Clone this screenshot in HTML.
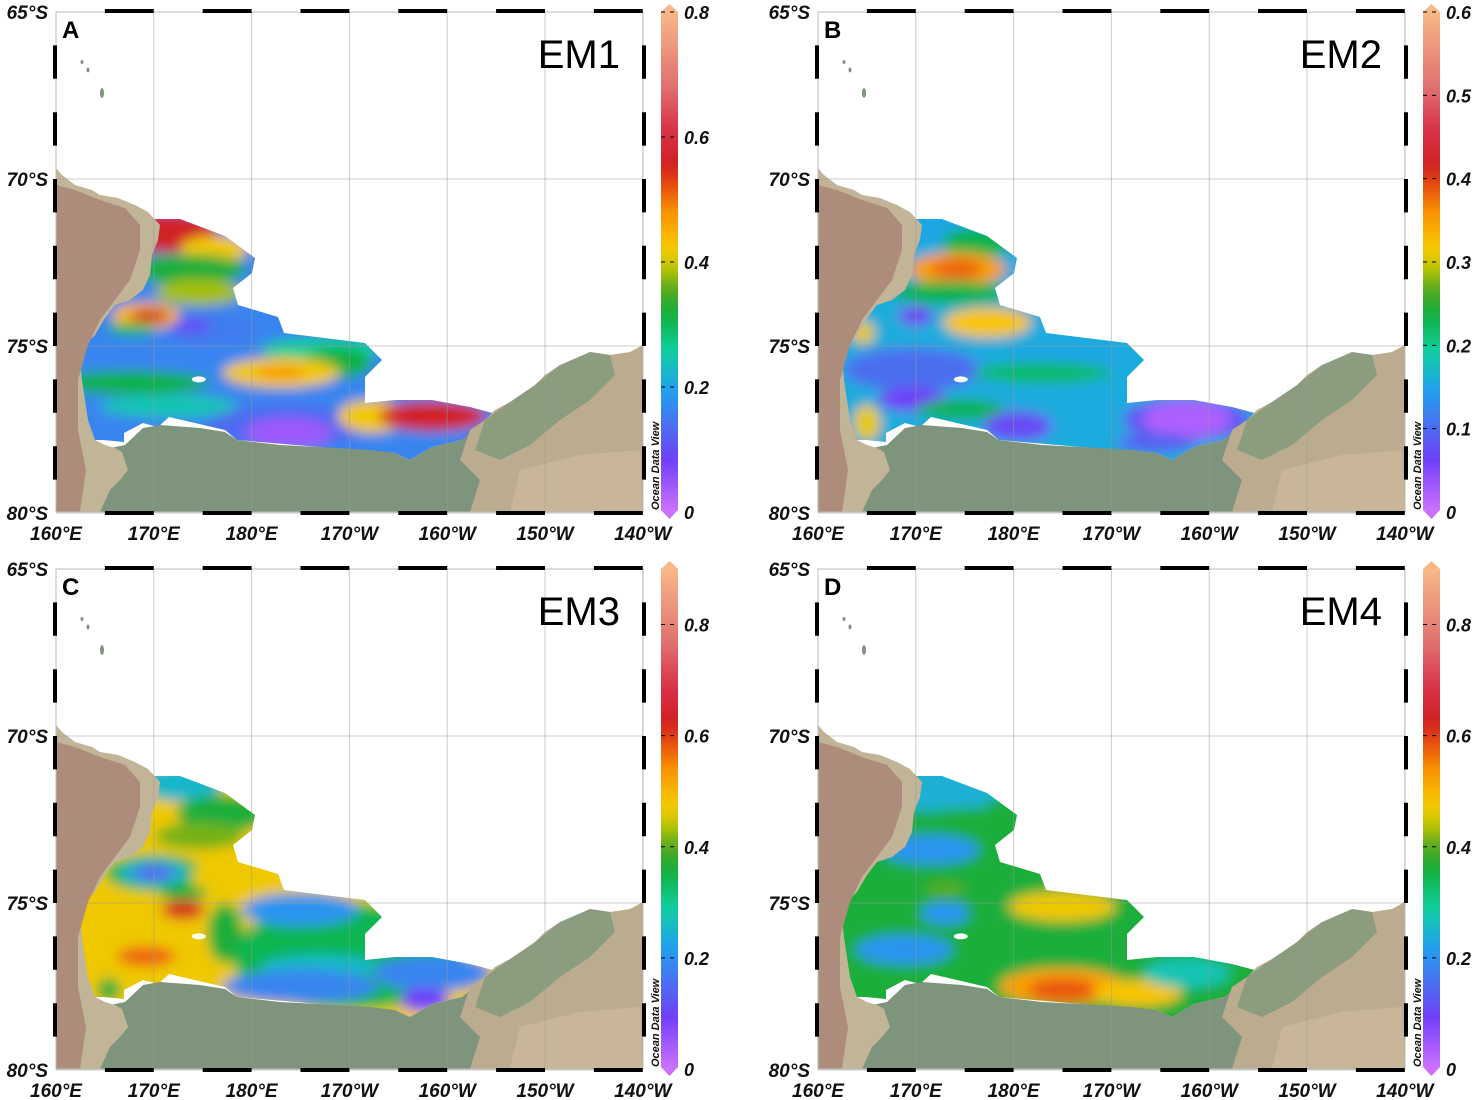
<!DOCTYPE html>
<html><head><meta charset="utf-8">
<style>
html,body{margin:0;padding:0;background:#fff;}
svg{display:block;}
text{font-family:"Liberation Sans",sans-serif;}
.ax{font-weight:bold;font-style:italic;font-size:19px;fill:#111;}
.cb{font-weight:bold;font-style:italic;font-size:18px;fill:#111;}
</style></head>
<body>
<svg id="fig" width="1476" height="1100" viewBox="0 0 1476 1100" xmlns="http://www.w3.org/2000/svg">
<defs>
<filter id="blur" x="-50%" y="-50%" width="200%" height="200%"><feGaussianBlur stdDeviation="6"/></filter>
<clipPath id="dataClip"><path d="M140,219 L180,219 L225,236 L255,258 L252,273 L233,288 L238,305 L278,317 L284,333 L365,343 L382,360 L365,377 L365,403 L395,400 L432,400 L470,407 L500,415 L462,440 L432,447 L410,460 L395,453 L319,447 L237,440 L225,430 L169,417 L158,427 L143,423 L124,433 L124,442 L103,440 L72,440 L66,350 L80,300 L120,260 L135,225 Z"/></clipPath>
</defs>
</svg>
<script>
// ---- data ----
var panelLetters = ["A","B","C","D"];
var panelTitles = ["EM1","EM2","EM3","EM4"];
var panelMax = [0.8, 0.6, 0.9, 0.9];
var tickA = [0,0.2,0.4,0.6,0.8];
var tickB = [0,0.1,0.2,0.3,0.4,0.5,0.6];
var tickC = [0,0.2,0.4,0.6,0.8];
var tickD = [0,0.2,0.4,0.6,0.8];
var lonLabels = ["160°E","170°E","180°E","170°W","160°W","150°W","140°W"];
var lonValues = [160,170,180,190,200,210,220];
var latLabels = ["65°S","70°S","75°S","80°S"];
var latValues = [65,70,75,80];
// field blobs: [lon, lat, value, rxDeg, ryDeg]
var baseA = 0.16;
var blobsA = [[175.4,74.5,0.15,5,0.5],[171.5,71.6,0.56,5,0.6],[176.2,72.1,0.42,3.5,0.4],[173.5,72.7,0.32,6,0.45],[174.6,73.4,0.38,4.5,0.4],
 [169.2,74.1,0.44,3.5,0.4],[169.6,74.1,0.56,2,0.2],[167.7,74.5,0.3,2.5,0.18],[173.8,74.4,0.1,2,0.25],[169.6,75.4,0.16,8,0.45],
 [187,75.1,0.26,6,0.35],[167.7,76.1,0.31,8,0.35],[188.8,75.5,0.31,3.5,0.45],[183,75.8,0.42,6,0.45],[183,75.8,0.47,2.5,0.2],
 [171.5,76.8,0.24,7,0.35],[183.5,77.4,0.13,8,0.65],[183.8,77.6,0.04,4.5,0.45],[192.3,77.1,0.42,3.5,0.5],[198.5,77.1,0.56,5.5,0.45],[194.6,78,0.16,4,0.3]];
var baseB = 0.155;
var blobsB = [[171.5,71.4,0.15,4,0.5],[176.2,71.9,0.23,3.5,0.45],[174.2,72.7,0.35,5,0.5],[174.2,72.7,0.38,2.5,0.3],[173.5,73.4,0.23,6,0.35],
 [170,74.1,0.16,3.5,0.4],[170,74.1,0.06,1.8,0.28],[177.3,74.3,0.32,4.5,0.45],[164.6,74.6,0.31,1.2,0.35],[169.6,75.7,0.1,7,0.65],
 [185,75.5,0.15,6,0.5],[183,75.8,0.22,7,0.3],[169.6,76.6,0.06,3.5,0.35],[174.6,76.9,0.23,4.5,0.3],[165,77.3,0.31,1.4,0.55],
 [180.4,77.4,0.07,3.5,0.45],[197.7,77.2,0.08,6.5,0.65],[197.7,77.2,0.02,4.5,0.55],[194.6,77.9,0.09,4,0.3]];
var baseC = 0.47;
var blobsC = [[190,76.6,0.34,12,1.6],[172.7,71.4,0.25,4.5,0.55],[177.3,72.3,0.36,5,0.55],[174.6,73.0,0.41,4.5,0.4],[170,74.1,0.34,5,0.55],[170,74.1,0.25,3.5,0.4],
 [170,74.1,0.13,2.2,0.22],[177.3,74.2,0.47,3.5,0.4],[173,74.7,0.36,2.5,0.22],[173,75.2,0.61,2.2,0.3],[169.2,76.6,0.57,3,0.3],
 [177.3,75.9,0.36,1.8,0.9],[185,75.2,0.2,6,0.5],[185,76.2,0.34,6.5,0.45],[187,76.9,0.25,6,0.35],[185,77.5,0.18,8,0.5],
 [198.5,77.1,0.18,6,0.55],[197.7,77.9,0.09,2.5,0.35],[165.4,77.6,0.36,1.2,0.35]];
var baseD = 0.36;
var blobsD = [[172.7,71.6,0.24,6,0.7],[175.4,72.5,0.36,5,0.35],[171.5,73.4,0.2,5,0.45],[179,74.2,0.36,4,0.4],[173,74.6,0.4,2,0.2],
 [173,75.3,0.2,2.5,0.35],[168.8,76.4,0.2,5,0.45],[185,75.1,0.47,5.5,0.45],[185,75.9,0.36,5,0.3],[185,77.5,0.52,6.5,0.55],
 [185,77.6,0.58,3.5,0.35],[192.7,77.7,0.48,4.5,0.4],[197.7,77.1,0.27,4.5,0.45]];
var panelBase = [baseA, baseB, baseC, baseD];
var panelBlobs = [blobsA, blobsB, blobsC, blobsD];
var panelTicks = [tickA, tickB, tickC, tickD];

// ---- scales ----
var X0 = 56, Y0 = 12, PXLON = 9.78, PXLAT = 33.4;
function xs(lon){ return X0 + (lon-160)*PXLON; }
function ys(lat){ return Y0 + (lat-65)*PXLAT; }
var cstops = [[0,"#cc70ff"],[0.1,"#7040f8"],[0.17,"#4a70f0"],[0.24,"#20a0f0"],[0.32,"#10d0a0"],[0.39,"#10b040"],[0.44,"#50a820"],
 [0.49,"#c8c800"],[0.53,"#f8c800"],[0.6,"#f89000"],[0.65,"#e85010"],[0.69,"#d02020"],[0.76,"#d83048"],[0.85,"#e07070"],[1,"#f8b888"]];
function hex(c){return [parseInt(c.substr(1,2),16),parseInt(c.substr(3,2),16),parseInt(c.substr(5,2),16)];}
function cmap(f){
  f=Math.max(0,Math.min(1,f));
  for(var i=1;i<cstops.length;i++){ if(f<=cstops[i][0]){
    var a=cstops[i-1],b=cstops[i],t=(f-a[0])/(b[0]-a[0]),ca=hex(a[1]),cb=hex(b[1]);
    return "rgb("+ca.map(function(v,k){return Math.round(v+(cb[k]-v)*t);}).join(",")+")"; } }
  return cstops[cstops.length-1][1];
}
var NS="http://www.w3.org/2000/svg";
function mk(tag,attrs,parent){ var e=document.createElementNS(NS,tag); for(var k in attrs)e.setAttribute(k,attrs[k]); if(parent)parent.appendChild(e); return e; }

var fig=document.getElementById("fig");
var defs=fig.querySelector("defs");
var offs=[[0,0],[762,0],[0,557],[762,557]];

var landVL="M56,168 L62,175 L75,185 L92,190 L100,195 L118,198 L135,205 L148,212 L160,225 L158,240 L152,255 L150,275 L143,290 L130,300 L115,305 L105,318 L95,335 L85,345 L80,360 L82,380 L85,400 L88,420 L95,440 L105,445 L115,448 L122,452 L128,470 L120,480 L110,490 L100,512 L56,512 Z";
var landVLin="M56,185 L75,190 L100,200 L125,208 L140,225 L140,250 L130,280 L115,300 L100,320 L88,345 L78,380 L78,430 L86,470 L80,512 L56,512 Z";
var ice="M56,512 L56,470 L100,450 L125,445 L143,428 L160,425 L200,428 L225,432 L237,440 L280,445 L319,447 L370,450 L395,453 L410,460 L432,447 L462,440 L480,425 L500,415 L540,400 L560,512 Z";
var mbl="M470,430 L485,420 L495,410 L510,402 L525,398 L535,385 L545,375 L560,365 L575,360 L590,352 L610,355 L630,352 L643,345 L643,512 L470,512 L480,480 L460,460 Z";
var mblG="M485,420 L510,402 L535,385 L560,365 L590,352 L610,355 L615,375 L590,400 L560,420 L530,445 L500,460 L475,450 Z";
var mblT="M520,470 L580,455 L640,450 L643,512 L510,512 Z";

for(var p=0;p<4;p++){
  var g=mk("g",{transform:"translate("+offs[p][0]+","+offs[p][1]+")"},fig);
  
  
  var mx=panelMax[p];
  var fg=mk("g",{"clip-path":"url(#dataClip)"},g);
  
  
  var bg=mk("g",{filter:"url(#blur)"},fg);
  mk("rect",{x:40,y:190,width:480,height:290,fill:cmap(panelBase[p]/mx)},bg);
  panelBlobs[p].forEach(function(b){
    var el=mk("ellipse",{cx:xs(b[0]),cy:ys(b[1]),rx:b[3]*PXLON,ry:b[4]*PXLAT,fill:cmap(b[2]/mx)},bg);
    
    
  });
  mk("ellipse",{cx:xs(174.6),cy:ys(76.0),rx:7,ry:3,fill:"#fff"},g);
  var lg=mk("g",{},g);
  
  
  mk("path",{d:ice,fill:"#7f947d"},lg);
  mk("path",{d:landVL,fill:"#c2b497"},lg);
  mk("path",{d:landVLin,fill:"#ad8c7b"},lg);
  mk("path",{d:mbl,fill:"#bcac8f"},lg);
  mk("path",{d:mblG,fill:"#8c9c7f"},lg);
  mk("path",{d:mblT,fill:"#c9b698"},lg);
  mk("ellipse",{cx:82,cy:62,rx:1.5,ry:2,fill:"#7f947d"},lg);
  mk("ellipse",{cx:88,cy:70,rx:1.5,ry:2.5,fill:"#7f947d"},lg);
  mk("ellipse",{cx:102,cy:93,rx:2,ry:5,fill:"#7f947d"},lg);
  lonValues.forEach(function(v,i){
    mk("line",{x1:xs(v),x2:xs(v),y1:12,y2:512,stroke:"#999","stroke-opacity":0.5,"stroke-width":1},g);
    var t=mk("text",{x:xs(v),y:540,"text-anchor":"middle","class":"ax"},g); t.textContent=lonLabels[i];
    
    
  });
  latValues.forEach(function(v,i){
    mk("line",{x1:56,x2:643,y1:ys(v),y2:ys(v),stroke:"#999","stroke-opacity":0.5,"stroke-width":1},g);
    var t=mk("text",{x:48,y:ys(v)+7,"text-anchor":"end","class":"ax"},g); t.textContent=latLabels[i];
    
    
  });
  mk("rect",{x:56,y:12,width:587,height:500,fill:"none",stroke:"#bbb","stroke-width":1},g);
  var fr=mk("g",{stroke:"#000","stroke-width":4,fill:"none"},g);
  
  
  mk("line",{x1:56,x2:643,y1:11,y2:11,"stroke-dasharray":"48.9 48.9","stroke-dashoffset":48.9},fr);
  mk("line",{x1:56,x2:643,y1:513,y2:513,"stroke-dasharray":"48.9 48.9","stroke-dashoffset":48.9},fr);
  mk("line",{x1:55,x2:55,y1:12,y2:512,"stroke-dasharray":"33.4 33.4","stroke-dashoffset":33.4},fr);
  mk("line",{x1:644,x2:644,y1:12,y2:512,"stroke-dasharray":"33.4 33.4","stroke-dashoffset":33.4},fr);
  var L=mk("text",{x:62,y:38,"font-size":24,"font-weight":"bold",fill:"#000"},g); L.textContent=panelLetters[p];
  
  
  var T=mk("text",{x:620,y:68,"font-size":40,"text-anchor":"end",fill:"#000"},g); T.textContent=panelTitles[p];
  
  
  var O=mk("text",{transform:"translate(659,510) rotate(-90)","font-size":11,"font-weight":"bold","font-style":"italic",fill:"#111"},g); O.textContent="Ocean Data View";
  
  
  var gid="cg"+p;
  var lgd=mk("linearGradient",{id:gid,x1:0,y1:1,x2:0,y2:0},defs);
  for(var s=0;s<=40;s++){ mk("stop",{offset:s/40,"stop-color":cmap(s/40)},lgd); }
  var cbg=mk("g",{},g);
  
  
  mk("rect",{x:661,y:12,width:17,height:498,fill:"url(#"+gid+")"},cbg);
  mk("polygon",{points:"661,12 678,12 669.5,4",fill:cmap(1)},cbg);
  mk("polygon",{points:"661,510 678,510 669.5,519",fill:cmap(0)},cbg);
  panelTicks[p].forEach(function(v){
    var y=512-v/mx*500;
    if(v>0) mk("line",{x1:661,x2:678,y1:y,y2:y,stroke:"#000","stroke-width":1,"stroke-dasharray":"4 5"},cbg);
    var t=mk("text",{x:684,y:y+7,"class":"cb"},cbg); t.textContent=String(v);
    
    
  });
}
</script>
</body></html>
